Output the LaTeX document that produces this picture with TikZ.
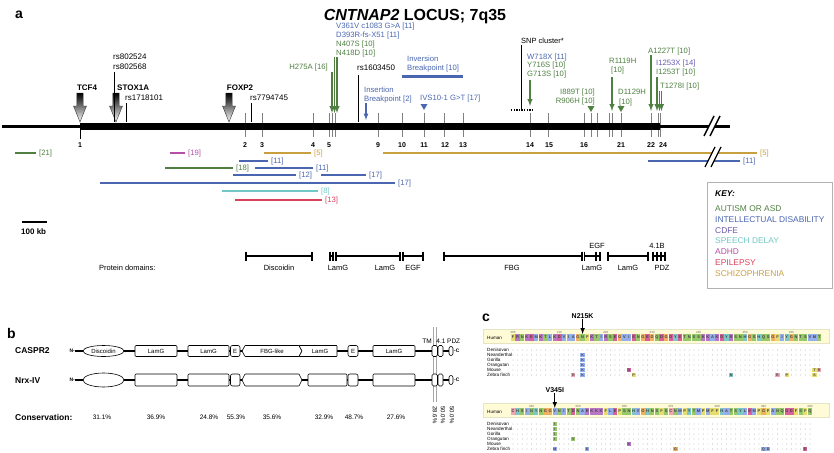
\documentclass[tikz,border=0pt]{standalone}
\usepackage{fontspec}
\setmainfont{Liberation Sans}
\usepackage{xcolor}
\usetikzlibrary{calc}

\definecolor{asd}{HTML}{4F8042}
\definecolor{idis}{HTML}{4A66B0}
\definecolor{cdfe}{HTML}{6A58B0}
\definecolor{speech}{HTML}{72C8C4}
\definecolor{adhd}{HTML}{B44FAA}
\definecolor{epil}{HTML}{D8425C}
\definecolor{schiz}{HTML}{C8A040}
\definecolor{band}{HTML}{FFFBD6}
% residue colours
\definecolor{aaHyd}{HTML}{93AEEA}
\definecolor{aaAro}{HTML}{7CC8C8}
\definecolor{aaPos}{HTML}{B876C4}
\definecolor{aaNeg}{HTML}{D8609C}
\definecolor{aaPol}{HTML}{96C86A}
\definecolor{aaGly}{HTML}{F0B060}
\definecolor{aaPro}{HTML}{E6DC6C}
\definecolor{aaCys}{HTML}{F0A6B4}
\colorlet{aaA}{aaHyd}\colorlet{aaI}{aaHyd}\colorlet{aaL}{aaHyd}\colorlet{aaM}{aaHyd}
\colorlet{aaV}{aaHyd}\colorlet{aaF}{aaPro}\colorlet{aaW}{aaHyd}\colorlet{aaY}{aaAro}
\colorlet{aaH}{aaAro}\colorlet{aaK}{aaPos}\colorlet{aaR}{aaPos}\colorlet{aaD}{aaNeg}
\colorlet{aaE}{aaNeg}\colorlet{aaN}{aaPol}\colorlet{aaQ}{aaPol}\colorlet{aaS}{aaPol}
\colorlet{aaT}{aaPol}\colorlet{aaG}{aaGly}\colorlet{aaP}{aaPro}\colorlet{aaC}{aaCys}

\newcommand{\genearrow}[1]{%
  \shade[top color=black, middle color=black!55, bottom color=white, draw=black!80, line width=.4pt]
    (#1-3.2,93) -- (#1+3.2,93) -- (#1+3.2,106) -- (#1+6.5,106) -- (#1,122)
    -- (#1-6.5,106) -- (#1-3.2,106) -- cycle;}

\tikzset{
  fs/.style={font=\fontsize{#1}{#1}\selectfont, text height={0.72*#1pt}},
  fsb/.style={fs=#1, font=\bfseries\fontsize{#1}{#1}\selectfont},
  exn/.style={fsb=7},
  mut/.style={line width=1.4pt, ->},
  track/.style={line width=2.4pt},
  dom/.style={line width=1.5pt},
  dbox/.style={draw, fill=white, line width=.6pt, rounded corners=1pt},
  aa/.style={fill=aa#1, minimum width=4.3pt, minimum height=7pt,
    font=\bfseries\fontsize{4}{4}\selectfont, text=black!75},
  cell/.style={minimum width=4.3pt, minimum height=4.6pt,
    font=\bfseries\fontsize{3.6}{3.6}\selectfont, text=black!75},
  species/.style={fs=4.6, anchor=west},
}

\begin{document}
\begin{tikzpicture}[x=1pt, y=-1pt, >=latex, every node/.style={inner sep=0pt, text depth=0pt}]
\useasboundingbox (0,0) rectangle (834,452);

% ---------- a: locus ----------
\node[fsb=14, anchor=west] (labA) at (15,13) {a};
\node[fsb=16] (title) at (415,15) {\textit{CNTNAP2} LOCUS; 7q35};

% exon ticks and chromosome
\foreach \x in {245,262,313,329,332,335,378,402,424,444,463,530,548,584,591,597,609,612,621,651,658,660}
  \draw[gray, line width=.6pt] (\x,113) -- (\x,137);
\draw[line width=.6pt] (80,129) -- (80,139);
\draw[line width=3pt] (2,126) -- (730,126);
\fill (80,122.5) rectangle (660,129.5);
\fill[white] (704,136) -- (710,136) -- (720,116) -- (714,116) -- cycle;
\draw[line width=1.5pt] (704,136) -- (714,116) (710,136) -- (720,116);
\foreach \x/\n in {80/1,245/2,262/3,313/4,329/5,378/9,402/10,424/11,445/12,463/13,
                   530/14,549/15,584/16,621/21,651/22,663/24}
  \node[exn] (ex\n) at (\x,145) {\n};

% genes
\genearrow{80}
\genearrow{116}
\genearrow{229}
\node[fsb=8] (tcf4) at (87,88) {TCF4};
\node[fsb=8, anchor=west] (stox) at (117,88) {STOX1A};
\node[fsb=8] (foxp2) at (240,88) {FOXP2};

% SNPs
\node[fs=8, anchor=west] (rs524) at (113,57) {rs802524};
\node[fs=8, anchor=west] (rs568) at (113,66.5) {rs802568};
\draw[line width=.8pt] (114,72) -- (114,122);
\node[fs=8, anchor=west] (rs101) at (125,98) {rs1718101};
\draw[line width=.8pt] (126,103) -- (126,122);
\node[fs=8, anchor=west] (rs745) at (250,98) {rs7794745};
\draw[line width=.8pt] (251,103) -- (251,122);
\node[fs=8, anchor=west] (rs450) at (357,68) {rs1603450};
\draw[line width=.8pt] (358,75) -- (358,122);
\node[fs=7.5, anchor=west] (snp) at (521,41) {SNP cluster*};
\draw[line width=.8pt] (521,45) -- (521,109);
\draw[line width=2.2pt, dash pattern=on 1.3pt off 1.3pt] (511,110) -- (532,110);

% mutations
\node[fs=7.7, anchor=east, text=asd] (h275) at (328,67) {H275A [16]};
\node[fs=7.7, anchor=west, text=idis] (v361) at (336,26) {V361V c1083 G\textgreater A [11]};
\node[fs=7.7, anchor=west, text=idis] (d393) at (336,35) {D393R-fs-X51 [11]};
\node[fs=7.7, anchor=west, text=asd] (n407) at (336,44) {N407S [10]};
\node[fs=7.7, anchor=west, text=asd] (n418) at (336,53) {N418D [10]};
\draw[mut, asd] (332,72) -- (332,113);
\draw[mut, asd] (334.5,57) -- (334.5,113);
\draw[mut, asd] (337,57) -- (337,113);

\node[fs=7.7, anchor=west, text=idis] (ins1) at (364,90) {Insertion};
\node[fs=7.7, anchor=west, text=idis] (ins2) at (364,98.5) {Breakpoint [2]};
\draw[mut, idis, line width=1.2pt] (366,103) -- (366,120);
\node[fs=7.7, anchor=west, text=idis] (inv1) at (407,59) {Inversion};
\node[fs=7.7, anchor=west, text=idis] (inv2) at (407,68) {Breakpoint [10]};
\draw[idis, line width=3pt] (402,76) -- (463,76);
\node[fs=7.7, anchor=west, text=idis] (ivs) at (420,98) {IVS10-1 G\textgreater T [17]};
\fill[idis] (420.5,104) -- (427.5,104) -- (424,110) -- cycle;

\node[fs=7.7, anchor=west, text=idis] (w718) at (527,57) {W718X [11]};
\node[fs=7.7, anchor=west, text=asd] (y716) at (527,65) {Y716S [10]};
\node[fs=7.7, anchor=west, text=asd] (g713) at (527,73.5) {G713S [10]};
\draw[mut, asd] (530,80) -- (530,106);
\node[fs=7.7, anchor=east, text=asd] (i889) at (595,92) {I889T [10]};
\node[fs=7.7, anchor=east, text=asd] (r906) at (595,101) {R906H [10]};
\fill[asd] (587.5,106) -- (594.5,106) -- (591,112) -- cycle;
\node[fs=7.7, anchor=west, text=asd] (r1119) at (609,61) {R1119H};
\node[fs=7.7, anchor=west, text=asd] (r1119b) at (611,70) {[10]};
\draw[mut, asd] (612,77) -- (612,111);
\node[fs=7.7, anchor=west, text=asd] (d1129) at (618,92) {D1129H};
\node[fs=7.7, anchor=west, text=asd] (d1129b) at (619,102) {[10]};
\fill[asd] (617.5,106) -- (624.5,106) -- (621,112) -- cycle;
\node[fs=7.7, anchor=west, text=asd] (a1227) at (648,51) {A1227T [10]};
\draw[mut, asd] (651,55) -- (651,111);
\node[fs=7.7, anchor=west, text=cdfe] (i1253x) at (656,63) {I1253X [14]};
\node[fs=7.7, anchor=west, text=asd] (i1253t) at (656,72) {I1253T [10]};
\draw[mut, asd] (657,77) -- (657,111);
\node[fs=7.7, anchor=west, text=asd] (t1278) at (660,86) {T1278I [10]};
\draw[mut, asd] (659.5,91) -- (659.5,111);
\draw[mut, asd] (661.5,91) -- (661.5,111);

% CNVs
\foreach \c/\a/\b/\y/\t in {asd/15/36/153/21, adhd/170/185/153/19, schiz/264/311/153/5,
    schiz/383/757/153/5, idis/239/268/161/11, idis/648/740/161/11, asd/165/233/168/18,
    idis/255/313/168/11, idis/233/296/175/12, idis/321/366/175/17, idis/100/395/183/17,
    speech/222/318/191/8, epil/235/322/200/13}{
  \draw[track, \c] (\a,\y) -- (\b,\y);
  \node[fs=7.7, anchor=west, text=\c] at (\b+3,\y) {[\t]};
}
\fill[white] (705,167) -- (711,167) -- (721,147) -- (715,147) -- cycle;
\draw[line width=1.2pt] (705,167) -- (715,147) (711,167) -- (721,147);

% scale bar
\draw[line width=1.6pt] (22,222) -- (47,222);
\node[fsb=8, anchor=west] (kb) at (21,231.5) {100 kb};

% key
\draw[gray!60, line width=.6pt] (707,182) rectangle (832,288);
\node[fsb=8.4, font=\bfseries\itshape\fontsize{8.4}{9}\selectfont, anchor=west] (key) at (715,193) {KEY:};
\foreach \c/\t [count=\k from 0] in {asd/AUTISM OR ASD, idis/INTELLECTUAL DISABILITY,
    cdfe/CDFE, speech/SPEECH DELAY, adhd/ADHD, epil/EPILEPSY, schiz/SCHIZOPHRENIA}
  \node[fs=8.4, anchor=west, text=\c] (key\k) at (715,{208.5+\k*10.8}) {\t};

% protein domains
\node[fs=7.5, anchor=west] (pd) at (99,268) {Protein domains:};
\foreach \a/\b in {246/312,330/333,336/400,403/423,444/582,584.5/596,596/600,608/648,653/665}
  \draw[dom] (\a,256) -- (\b,256);
\foreach \x in {246,312,330,333,336,400,403,423,444,582,584.5,596,600,608,648,653,657,661,665}
  \draw[dom] (\x,251.5) -- (\x,260.5);
\foreach \x/\t in {279/Discoidin,338/LamG,385/LamG,413/EGF,512/FBG,592/LamG,628/LamG,662/PDZ}
  \node[fs=7.5] at (\x,268) {\t};
\node[fs=7.5] (egf2) at (597,246) {EGF};
\node[fs=7.5] (b41) at (657,246) {4.1B};

% ---------- b: domain structure ----------
\node[fsb=14, anchor=west] (labB) at (7,333) {b};
\node[fsb=8.5, anchor=west] (caspr) at (15,350) {CASPR2};
\node[fsb=8.5, anchor=west] (nrx) at (15,380) {Nrx-IV};
\node[fsb=8.5, anchor=west] (cons) at (15,417) {Conservation:};
\draw[gray!70, line width=.5pt] (433.5,327) -- (433.5,402) (436.5,327) -- (436.5,402);
\foreach \y/\h/\e in {351/5.5/5.5, 380/6/7}{
  \node[fsb=5, anchor=east] at (75,\y) {N-};
  \draw[line width=1.2pt] (75,\y) -- (450,\y);
  \draw[fill=white, line width=.6pt] (103.5,\y) ellipse [x radius=20.5pt, y radius=\e pt];
  \draw[dbox] (135,\y-\h) rectangle (177,\y+\h);
  \draw[dbox] (188,\y-\h) rectangle (229,\y+\h);
  \draw[dbox, rounded corners=2pt] (230.5,\y-\h) rectangle (240,\y+\h);
  \draw[dbox, rounded corners=.5pt] (245,\y-\h) -- (299,\y-\h) -- (302,\y) -- (299,\y+\h)
    -- (245,\y+\h) -- (242,\y) -- cycle;
  \draw[dbox, rounded corners=2pt] (348,\y-\h) rectangle (358,\y+\h);
  \draw[dbox] (373,\y-\h) rectangle (415,\y+\h);
  \draw[dbox, rounded corners=1.5pt] (432,\y-\h) rectangle (437.5,\y+\h);
  \draw[dbox, rounded corners=1.5pt] (438,\y-\h) rectangle (443,\y+\h);
  \draw[dbox, rounded corners=2pt] (449,\y-4.5) rectangle (453,\y+4.5);
  \node[fsb=5, anchor=west] at (454,\y) {-C};
}
\draw[dbox, rounded corners=.5pt] (299,345.5) -- (337,345.5) -- (337,356.5) -- (299,356.5) -- (302,351) -- cycle;
\draw[dbox] (308,374) rectangle (347,386);
\foreach \x/\t in {103.5/Discoidin,156/LamG,208.5/LamG,235.2/E,272/FBG-like,320/LamG,353/E,394/LamG}
  \node[fs=6] at (\x,351) {\t};
\node[fs=6.5] (tm) at (427,341) {TM};
\node[fs=6.5] (d41) at (441,341) {4.1};
\node[fs=6.5, anchor=west] (pdz) at (447,341) {PDZ};
\foreach \x/\t in {102/31.1,156/36.9,209/24.8,236/55.3,272/35.6,324/32.9,354/48.7,396/27.6}
  \node[fs=6.5] at (\x,417) {\t\%};
\foreach \x/\t in {435/28.6,443/50.0,452/50.0}
  \node[fs=6, rotate=-90] at (\x,415) {\t\%};

% ---------- c: alignment ----------
\node[fsb=14, anchor=west] (labC) at (482,316) {c};
\foreach \blk/\top/\mark/\mx/\start/\seq in {
    1/329/N215K/582.6/200/{F,R,N,K,E,M,K,T,L,K,D,V,I,A,G,N,F,K,T,I,R,S,E,G,V,I,E,N,G,E,G,Q,D,G,D,Y,E,T,N,S,S,K,K,A,K,D,Y,R,S,N,H,G,S,H,Q,S,G,F,I,Y,G,N,T,S,V,M,T},
    2/403/V345I/554.8/336/{C,H,S,I,N,Y,N,G,G,V,N,I,T,D,N,A,R,K,K,K,F,L,E,P,S,N,H,V,G,H,N,S,F,S,C,N,M,P,Y,T,M,P,M,F,F,H,A,T,S,Y,L,E,M,P,G,P,A,N,Q,D,D,F,S,F,Q}}{
  \fill[band, draw=band!50!olive!40, line width=.4pt] (483,\top) rectangle (829,\top+14);
  \node[fsb=7] (mk\blk) at (\mx,\top-13) {\mark};
  \draw[->, line width=1pt] (mk\blk.south) -- (\mx,\top+5);
  \node[species] at (487,\top+8.5) {Human};
  \foreach \r [count=\i from 0] in \seq {
    \node[aa=\r] (s\blk-\i) at ({513+\i*4.64},\top+8.5) {\r};
    \pgfmathtruncatemacro{\res}{\start+\i}
    \pgfmathtruncatemacro{\tenth}{mod(\res,10)}
    \ifnum\tenth=0 \node[fs=3, text=black!60] at ({513+\i*4.64},\top+3) {\res};\fi
    \foreach \rw in {0,...,5}
      \fill[black!55] ({513+\i*4.64},{\top+21+\rw*5}) circle (.35pt);
  }
  \foreach \sp [count=\k from 0] in {Denisovan,Neanderthal,Gorilla,Orangutan,Mouse,Zebra finch}
    \node[species] at (487,{\top+21+\k*5}) {\sp};
}
% substitutions, first block (rows at 350 + 5k)
\foreach \i/\k/\c/\t in {15/1/aaHyd/K,15/2/aaHyd/K,15/3/aaHyd/K,15/4/aaHyd/K,15/5/aaHyd/K,
    25/4/aaNeg/D,13/5/aaCys/R,26/5/aaPro/P,47/5/aaAro/N,57/5/aaCys/R,59/5/aaPro/P,
    65/4/aaPro/T,66/4/aaCys/R,65/5/aaPro/S}
  \node[cell, fill=\c] at ({513+\i*4.64},{350+\k*5}) {\t};
% substitutions, second block (rows at 424 + 5k)
\foreach \i/\k/\c/\t in {9/0/aaPol/I,9/1/aaPol/I,9/2/aaPol/I,9/3/aaPol/I,9/5/aaHyd/M,
    13/3/aaPol/V,25/4/aaPos/K,16/5/aaHyd/K,35/5/aaGly/G,54/5/aaHyd/Q,55/5/aaHyd/D,63/5/aaNeg/E}
  \node[cell, fill=\c] at ({513+\i*4.64},{424+\k*5}) {\t};
\end{tikzpicture}
\end{document}
